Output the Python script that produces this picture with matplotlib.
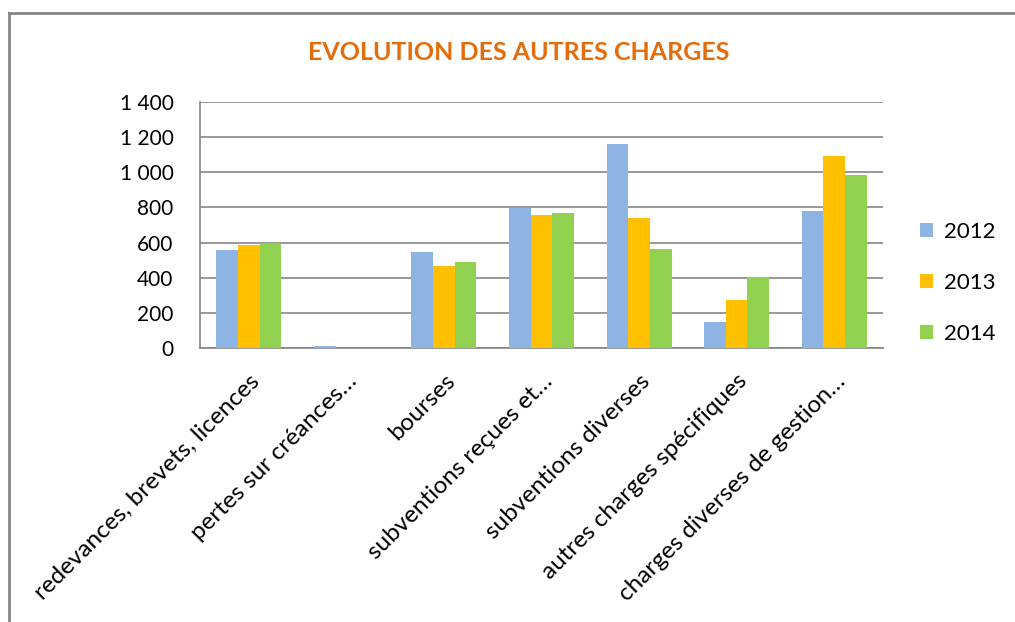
import matplotlib
matplotlib.use("Agg")
import matplotlib.pyplot as plt
import numpy as np
from matplotlib.lines import Line2D

categories = ["redevances, brevets, licences", "pertes sur créances…", "bourses",
              "subventions reçues et…", "subventions diverses",
              "autres charges spécifiques", "charges diverses de gestion…"]
years = ["2012", "2013", "2014"]
v2012 = [559, 13, 548, 798, 1163, 150, 781]
v2013 = [588, 0, 468, 759, 742, 275, 1095]
v2014 = [596, 0, 491, 770, 565, 406, 986]
yticks = [0, 200, 400, 600, 800, 1000, 1200, 1400]
ytick_labels = ["0", "200", "400", "600", "800", "1 000", "1 200", "1 400"]
colors = ["#8EB4E3", "#FFC000", "#92D050"]

plt.rcParams['font.family'] = ['Lato', 'DejaVu Sans']

fig = plt.figure(figsize=(10.15, 6.22), dpi=100)
ax = fig.add_axes([200/1015, 1-348/622, 683/1015, 246/622])

x = np.arange(len(categories))
w = 0.222
for i, (vals, yr, c) in enumerate(zip([v2012, v2013, v2014], years, colors)):
    ax.bar(x + (i - 1) * w, vals, width=w, color=c, label=yr, zorder=3)

ax.set_xlim(-0.5, len(categories) - 0.5)
ax.set_ylim(0, 1400)
ax.set_yticks(yticks)
ax.set_yticklabels(ytick_labels, fontsize=15)
ax.yaxis.grid(True, color="#868686", linewidth=1.2, zorder=0)
ax.set_axisbelow(True)
for s in ["top", "right"]:
    ax.spines[s].set_visible(False)
for s in ["left", "bottom"]:
    ax.spines[s].set_color("#868686")
    ax.spines[s].set_linewidth(1.2)
ax.tick_params(axis="y", length=0, pad=19)
ax.set_xticks(x)
ax.set_xticklabels(categories, rotation=45, ha="right", va="top",
                   rotation_mode="anchor", fontsize=17.5)
ax.tick_params(axis="x", length=0, pad=16)

fig.text(519/1015, 1-52/622, "EVOLUTION DES AUTRES CHARGES", color="#E46C0A",
         fontsize=18, fontweight="bold", ha="center", va="center")

leg = fig.legend(*ax.get_legend_handles_labels(), loc="center left",
                 bbox_to_anchor=(920/1015, 1-283/622), frameon=False,
                 fontsize=16, handlelength=0.6, handleheight=0.6,
                 labelspacing=1.4, handletextpad=0.5, borderpad=0, borderaxespad=0)

fig.add_artist(Line2D([9/1015, 9/1015], [0, 1-13/622], color="#868686", lw=2,
                      transform=fig.transFigure))
fig.add_artist(Line2D([9/1015, 1], [1-13/622, 1-13/622], color="#868686", lw=2,
                      transform=fig.transFigure))

fig.savefig("out.png", dpi=100)
